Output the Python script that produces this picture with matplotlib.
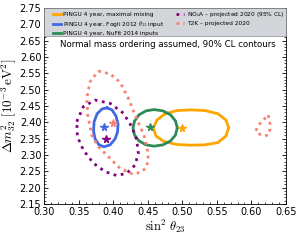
import numpy as np
import matplotlib
matplotlib.use('Agg')
import matplotlib.pyplot as plt
from matplotlib.patches import Rectangle
from matplotlib.ticker import MultipleLocator

plt.rcParams['mathtext.fontset'] = 'cm'

# contour outlines (sin^2 theta23, dm^2_32)
max_x = [0.5671, 0.5632, 0.5517, 0.5329, 0.5126, 0.4924, 0.4750, 0.4634,
         0.4581, 0.4620, 0.4736, 0.4924, 0.5126, 0.5329, 0.5517, 0.5632]
max_y = [2.383, 2.407, 2.426, 2.436, 2.438, 2.436, 2.426, 2.407,
         2.383, 2.358, 2.341, 2.332, 2.330, 2.331, 2.338, 2.358]

fogli_x = [0.3911, 0.3983, 0.4041, 0.4070, 0.4063, 0.4027, 0.3955,
           0.3868, 0.3795, 0.3738, 0.3716, 0.3723, 0.3767, 0.3839]
fogli_y = [2.444, 2.438, 2.419, 2.395, 2.370, 2.349, 2.331,
           2.325, 2.331, 2.349, 2.373, 2.401, 2.426, 2.441]

nufit_x = [0.4928, 0.4902, 0.4830, 0.4721, 0.4591, 0.4475, 0.4374, 0.4309,
           0.4287, 0.4309, 0.4374, 0.4475, 0.4591, 0.4721, 0.4830, 0.4902]
nufit_y = [2.383, 2.404, 2.423, 2.435, 2.439, 2.435, 2.423, 2.404,
           2.383, 2.361, 2.343, 2.331, 2.327, 2.331, 2.343, 2.361]

nova_x = [0.3473, 0.3568, 0.3738, 0.3955, 0.4147, 0.4268, 0.4341, 0.4364,
          0.4316, 0.4196, 0.4051, 0.3882, 0.3713, 0.3568, 0.3482]
nova_y = [2.402, 2.448, 2.468, 2.458, 2.428, 2.387, 2.346, 2.305,
          2.269, 2.244, 2.237, 2.249, 2.275, 2.315, 2.356]

t2k_x = [0.3785, 0.3955, 0.4099, 0.4219, 0.4316, 0.4446, 0.4497, 0.4509,
         0.4475, 0.4388, 0.4268, 0.4099, 0.3930, 0.3785, 0.3690, 0.3632,
         0.3618, 0.3665]
t2k_y = [2.557, 2.548, 2.523, 2.474, 2.422, 2.361, 2.315, 2.285,
         2.260, 2.246, 2.243, 2.259, 2.295, 2.325, 2.361, 2.422,
         2.474, 2.524]

t2k2_x = [0.6244, 0.6269, 0.6269, 0.6244, 0.6196, 0.6124, 0.6062, 0.6100, 0.6157, 0.6206]
t2k2_y = [2.422, 2.397, 2.377, 2.361, 2.359, 2.363, 2.373, 2.390, 2.404, 2.414]

# best fit points
star_x = [0.500, 0.387, 0.454, 0.389, 0.400]
star_y = [2.383, 2.386, 2.386, 2.349, 2.398]

colors = ['orange', 'royalblue', 'seagreen', 'purple', 'salmon']


def closed(x, y):
    return np.append(x, x[0]), np.append(y, y[0])


fig = plt.figure(figsize=(3.0, 2.4), dpi=100)
ax = fig.add_axes([0.147, 0.15, 0.806, 0.817])

ax.plot(*closed(max_x, max_y), color=colors[0], lw=2,
        label='PINGU 4 year, maximal mixing')
ax.plot(*closed(fogli_x, fogli_y), color=colors[1], lw=2,
        label=r'PINGU 4 year, Fogli 2012 $\theta_{23}$ input')
ax.plot(*closed(nufit_x, nufit_y), color=colors[2], lw=2,
        label='PINGU 4 year, NuFit 2014 inputs')
ax.plot(*closed(nova_x, nova_y), color=colors[3], lw=2, ls=':',
        label=r'NO$\nu$A – projected 2020 (95% CL)')
ax.plot(*closed(t2k_x, t2k_y), color=colors[4], lw=2, ls=(0, (1, 1.5)),
        label='T2K – projected 2020')
ax.plot(*closed(t2k2_x, t2k2_y), color=colors[4], lw=2, ls=(0, (1, 1.5)))

for sx, sy, c in zip(star_x, star_y, colors):
    ax.plot(sx, sy, marker='*', color=c, ms=5.5, ls='none')

ax.set_xlim(0.30, 0.65)
ax.set_ylim(2.15, 2.75)
ax.xaxis.set_major_locator(MultipleLocator(0.05))
ax.yaxis.set_major_locator(MultipleLocator(0.05))
ax.xaxis.set_minor_locator(MultipleLocator(0.01))
ax.yaxis.set_minor_locator(MultipleLocator(0.01))
ax.tick_params(which='both', direction='in', top=True, right=True,
               labelsize=7, pad=2)
ax.tick_params(which='major', length=3, width=0.6)
ax.tick_params(which='minor', length=1.5, width=0.5)
for s in ax.spines.values():
    s.set_linewidth(0.6)

ax.set_xlabel(r'$\sin^2\,\theta_{23}$', fontsize=9, labelpad=1)
ax.set_ylabel(r'$\Delta m^2_{32}\ [10^{-3}\,\mathrm{eV}^2]$', fontsize=9.5, labelpad=1)

ax.text(0.51, 0.811, 'Normal mass ordering assumed, 90% CL contours',
        transform=ax.transAxes, ha='center', va='center', fontsize=6.2)

# grey legend band across the top of the axes
ax.add_patch(Rectangle((0, 0.857), 1, 0.143, transform=ax.transAxes,
                       facecolor='#d2d5d9', edgecolor='#888888', lw=0.5,
                       zorder=4, clip_on=False))
leg = ax.legend(ncol=2, loc='upper left', bbox_to_anchor=(0.028, 0.997, 0.972, 0),
                mode='expand', fontsize=4.2, frameon=False,
                handlelength=1.4, handletextpad=0.45, labelspacing=0.3,
                borderaxespad=0, borderpad=0.3, columnspacing=1.0)
leg.set_zorder(5)

fig.savefig('out.png', dpi=100)
